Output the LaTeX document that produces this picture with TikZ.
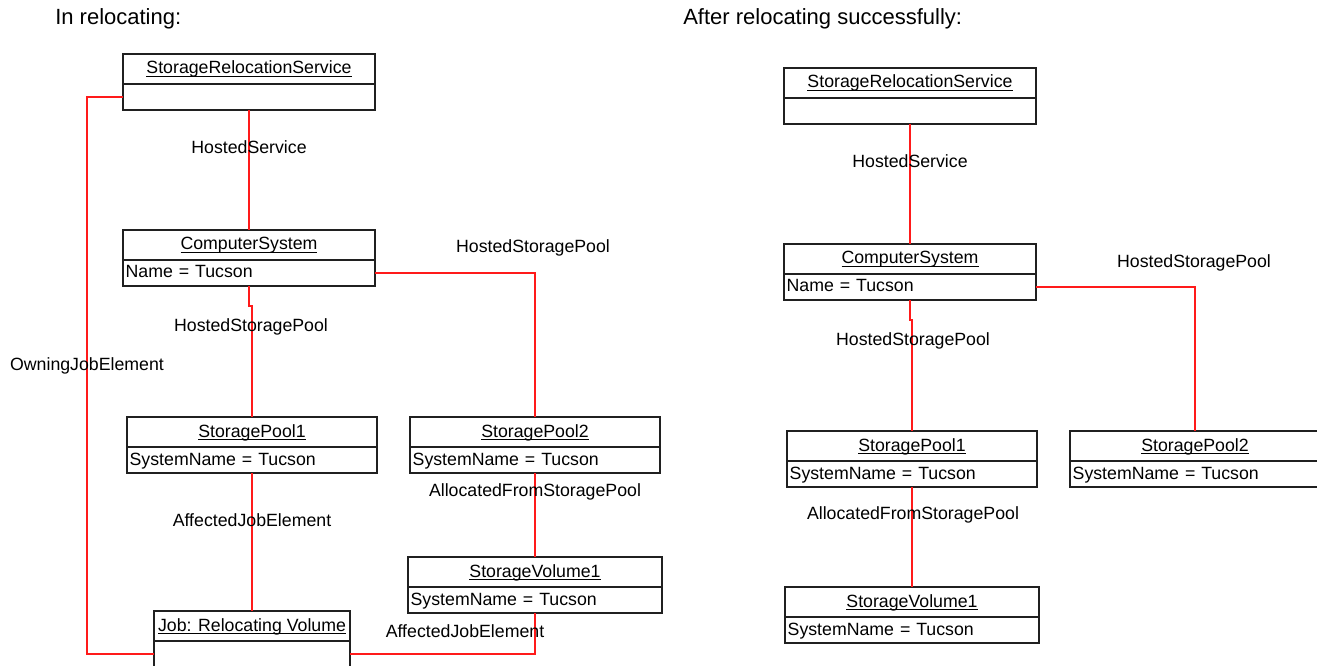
\documentclass[tikz,border=0pt]{standalone}
\usepackage{fontspec}
\setmainfont{Liberation Sans}
\usetikzlibrary{positioning}
\definecolor{umlred}{HTML}{FF1A1A}
\definecolor{umlline}{HTML}{202020}
\newcommand{\boxfont}{\fontsize{13.3}{16}\selectfont}
\newcommand{\headfont}{\fontsize{16.5}{20}\selectfont}
\newcommand{\uln}[1]{\sbox0{#1}\rlap{\rule[-2pt]{\wd0}{0.45pt}}\usebox0}
\newcommand{\umlobject}[5]{%
  \pgfmathsetlengthmacro{\objw}{#3*0.75pt}%
  \pgfmathsetlengthmacro{\objtw}{#3*0.75pt-4pt}%
  \node[objhead,minimum width=\objw,anchor=north west] (#1) at (#2) {\uln{#4}};
  \node[objattr,minimum width=\objw,text width=\objtw,below=0pt of #1] (#1a) {#5};
}
\tikzset{
  objhead/.style={draw=umlline,line width=0.8pt,minimum height=22.5pt,
    inner sep=0pt,outer sep=0pt,font=\boxfont,text height=10pt,text depth=2.5pt},
  objattr/.style={draw=umlline,line width=0.8pt,minimum height=19.5pt,
    inner xsep=2pt,inner ysep=0pt,outer sep=0pt,align=left,font=\boxfont,
    text height=10pt,text depth=2.5pt},
  assoc/.style={draw=umlred,line width=1pt},
  assoclabel/.style={font=\boxfont,inner sep=0pt},
}

\begin{document}
\begin{tikzpicture}[x=0.75pt,y=-0.75pt]
  \useasboundingbox (0,0) rectangle (1317,666);

  \node[anchor=west,font=\headfont,inner sep=0pt] (ltitle) at (55,19) {In relocating:};
  \node[anchor=west,font=\headfont,inner sep=0pt] (rtitle) at (683,19) {After relocating successfully:};

  % in relocating
  \umlobject{lsrs}{123,54}{252}{StorageRelocationService}{}
  \umlobject{lcs}{123,230}{252}{ComputerSystem}{Name = Tucson}
  \umlobject{lsp1}{127,417}{250}{StoragePool1}{SystemName = Tucson}
  \umlobject{lsp2}{410,417}{250}{StoragePool2}{SystemName = Tucson}
  \umlobject{lsv1}{408,557}{254}{StorageVolume1}{SystemName = Tucson}
  \umlobject{ljob}{154,611}{196}{Job: Relocating Volume}{}

  \draw[assoc] (lsrsa.south) -- (lcs.north);
  \draw[assoc] (lcsa.south) -- ++(0,20) -| (lsp1.north);
  \draw[assoc] (lcsa.east) -| (lsp2.north);
  \draw[assoc] (lsp1a.south) -- ++(0,22) -| (ljob.north);
  \draw[assoc] (lsp2a.south) -- (lsv1.north);
  \draw[assoc] (lsv1a.south) |- (ljoba.east);
  \draw[assoc] (lsrsa.west) -- ++(-36,0) |- (ljoba.west);

  \node[assoclabel] (lhs) at (249,147) {HostedService};
  \node[assoclabel] (lhsp1) at (251,327) {HostedStoragePool};
  \node[assoclabel] (lhsp2) at (533,248) {HostedStoragePool};
  \node[assoclabel] (laje1) at (252,520) {AffectedJobElement};
  \node[assoclabel] (lafsp) at (535,492) {AllocatedFromStoragePool};
  \node[assoclabel] (laje2) at (465,631) {AffectedJobElement};
  \node[assoclabel] (loje) at (87,366) {OwningJobElement};

  % after relocating
  \umlobject{rsrs}{784,68}{252}{StorageRelocationService}{}
  \umlobject{rcs}{784,244}{252}{ComputerSystem}{Name = Tucson}
  \umlobject{rsp1}{787,431}{250}{StoragePool1}{SystemName = Tucson}
  \umlobject{rsp2}{1070,431}{250}{StoragePool2}{SystemName = Tucson}
  \umlobject{rsv1}{785,587}{254}{StorageVolume1}{SystemName = Tucson}

  \draw[assoc] (rsrsa.south) -- (rcs.north);
  \draw[assoc] (rcsa.south) -- ++(0,20) -| (rsp1.north);
  \draw[assoc] (rcsa.east) -| (rsp2.north);
  \draw[assoc] (rsp1a.south) -- (rsv1.north);

  \node[assoclabel] (rhs) at (910,161) {HostedService};
  \node[assoclabel] (rhsp1) at (913,341) {HostedStoragePool};
  \node[assoclabel] (rhsp2) at (1194,263) {HostedStoragePool};
  \node[assoclabel] (rafsp) at (913,515) {AllocatedFromStoragePool};
\end{tikzpicture}
\end{document}
